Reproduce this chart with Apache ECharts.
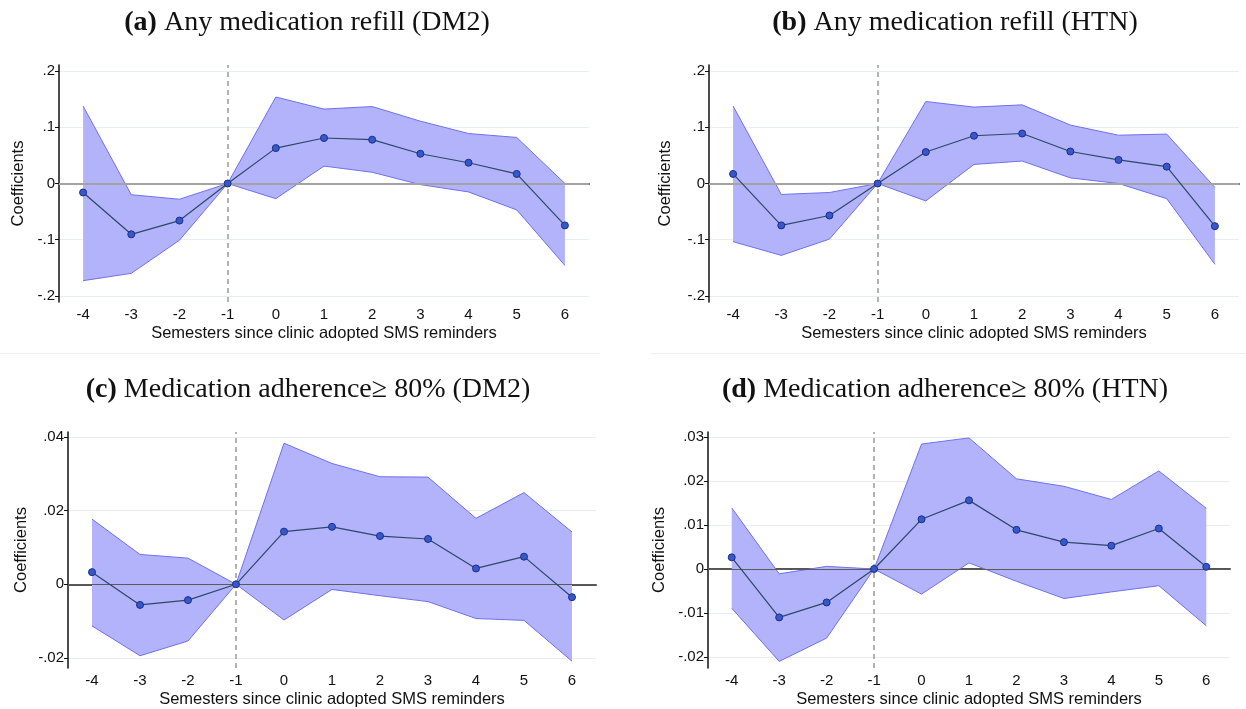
<!DOCTYPE html>
<html>
<head>
<meta charset="utf-8">
<script src="https://cdn.jsdelivr.net/npm/echarts@6/dist/echarts.min.js"></script>
<style>
html,body{margin:0;padding:0;background:#fff;}
#chart{width:1246px;height:709px;}
</style>
</head>
<body>
<div id="chart"></div>
<script>
// semesters relative to SMS adoption
var semesters = ['-4','-3','-2','-1','0','1','2','3','4','5','6'];

// (a) any refill, DM2
var refillDm2Coef = [-0.016,-0.0905,-0.066,0,0.063,0.081,0.078,0.053,0.037,0.017,-0.0746];
var refillDm2Hi   = [0.138,-0.020,-0.028,0,0.154,0.1325,0.137,0.111,0.089,0.082,0.0];
var refillDm2Lo   = [-0.173,-0.160,-0.101,0,-0.027,0.031,0.020,-0.002,-0.015,-0.047,-0.146];

// (b) any refill, HTN
var refillHtnCoef = [0.017,-0.0746,-0.057,0,0.056,0.085,0.089,0.057,0.042,0.030,-0.076];
var refillHtnHi   = [0.138,-0.0195,-0.016,0,0.146,0.136,0.140,0.104,0.086,0.088,-0.007];
var refillHtnLo   = [-0.1035,-0.128,-0.099,0,-0.031,0.034,0.040,0.010,0.0,-0.027,-0.144];

// (c) adherence >= 80%, DM2
var adhDm2Coef = [0.0033,-0.0056,-0.0043,0,0.0143,0.0156,0.0131,0.0123,0.0043,0.0075,-0.0035];
var adhDm2Hi   = [0.0177,0.0081,0.0071,0,0.0383,0.0328,0.0292,0.0291,0.0179,0.0249,0.0142];
var adhDm2Lo   = [-0.0113,-0.0194,-0.0154,0,-0.0097,-0.0014,-0.0031,-0.0047,-0.0093,-0.0098,-0.0209];

// (d) adherence >= 80%, HTN
var adhHtnCoef = [0.00265,-0.011,-0.0076,0,0.0113,0.0156,0.0089,0.0061,0.0053,0.0092,0.0005];
var adhHtnHi   = [0.0139,-0.0011,0.0006,0,0.0284,0.0298,0.0205,0.0188,0.0158,0.0223,0.0138];
var adhHtnLo   = [-0.0089,-0.021,-0.0157,0,-0.0057,0.0014,-0.0028,-0.0067,-0.0052,-0.0038,-0.0129];

var yTicksRefill = [-0.2,-0.1,0,0.1,0.2];
var yTicksAdhDm2 = [-0.02,0,0.02,0.04];
var yTicksAdhHtn = [-0.02,-0.01,0,0.01,0.02,0.03];

var panels = [
  { tag:'(a)', name:'Any medication refill (DM2)', coef:refillDm2Coef, hi:refillDm2Hi, lo:refillDm2Lo, ticks:yTicksRefill,
    min:-0.211, max:0.211, grid:{left:59, top:65, width:530, height:237}, titleX:302, titleY:4, nameGap:32, zero:{color:'#a3a3a3', width:2} },
  { tag:'(b)', name:'Any medication refill (HTN)', coef:refillHtnCoef, hi:refillHtnHi, lo:refillHtnLo, ticks:yTicksRefill,
    min:-0.211, max:0.211, grid:{left:709, top:65, width:530, height:237}, titleX:950, titleY:4, nameGap:35, zero:{color:'#a3a3a3', width:2} },
  { tag:'(c)', name:'Medication adherence\u2265 80% (DM2)', coef:adhDm2Coef, hi:adhDm2Hi, lo:adhDm2Lo, ticks:yTicksAdhDm2,
    min:-0.02273, max:0.04135, grid:{left:68, top:432, width:528, height:236}, titleX:303, titleY:371, nameGap:38, zero:{color:'#5a5a5a', width:1} },
  { tag:'(d)', name:'Medication adherence\u2265 80% (HTN)', coef:adhHtnCoef, hi:adhHtnHi, lo:adhHtnLo, ticks:yTicksAdhHtn,
    min:-0.0225, max:0.03114, grid:{left:708, top:432, width:522, height:236}, titleX:940, titleY:371, nameGap:40, zero:{color:'#5a5a5a', width:1} }
];

function tickFmt(v){
  var s = String(+(+v).toFixed(5));
  if (s === '0') return '0';
  return s.replace('0.', '.');
}

var option = {
  backgroundColor:'#fff',
  animation:false,
  title:[], grid:[], xAxis:[], yAxis:[], series:[],
  graphic:[
    { type:'line', shape:{x1:0, y1:353.5, x2:600, y2:353.5}, style:{stroke:'#eef2f2', lineWidth:1} },
    { type:'line', shape:{x1:650, y1:353.5, x2:1246, y2:353.5}, style:{stroke:'#eef2f2', lineWidth:1} }
  ]
};

panels.forEach(function(p, i){
  option.title.push({
    text:'{b|' + p.tag + '} ' + p.name,
    left:p.titleX, top:p.titleY, textAlign:'center',
    textStyle:{ fontFamily:'Liberation Serif', fontSize:28, fontWeight:'normal', color:'#111',
      rich:{ b:{ fontFamily:'Liberation Serif', fontSize:28, fontWeight:'bold', color:'#111' } } }
  });
  option.grid.push(p.grid);
  option.xAxis.push({
    gridIndex:i, type:'category', data:semesters, boundaryGap:true,
    name:'Semesters since clinic adopted SMS reminders', nameLocation:'middle', nameGap:23,
    nameTextStyle:{ fontFamily:'Liberation Sans', fontSize:16.5, color:'#111' },
    axisLine:{ lineStyle:{ color:'#555', width:2 } },
    axisTick:{ alignWithLabel:true, interval:0, length:4, lineStyle:{ color:'#555' } },
    axisLabel:{ interval:0, margin:5, fontFamily:'Liberation Sans', fontSize:15, color:'#111' },
    splitLine:{ show:false }
  });
  option.yAxis.push({
    gridIndex:i, type:'value', min:p.min, max:p.max,
    name:'Coefficients', nameLocation:'middle', nameGap:p.nameGap,
    nameTextStyle:{ fontFamily:'Liberation Sans', fontSize:16.5, color:'#111' },
    axisLine:{ show:true, lineStyle:{ color:'#111', width:1.5 } },
    axisTick:{ show:true, length:4, customValues:p.ticks, lineStyle:{ color:'#111' } },
    axisLabel:{ customValues:p.ticks, margin:4, fontFamily:'Liberation Sans', fontSize:15, color:'#111', formatter:tickFmt },
    splitLine:{ show:true, lineStyle:{ color:'#e8eff0', width:1 } }
  });
  var diff = p.hi.map(function(h, k){ return h - p.lo[k]; });
  option.series.push({
    type:'line', xAxisIndex:i, yAxisIndex:i, data:p.lo, stack:'ci' + i, stackStrategy:'all',
    symbol:'none', lineStyle:{ color:'#7070f0', width:1 }, silent:true
  });
  option.series.push({
    type:'line', xAxisIndex:i, yAxisIndex:i, data:diff, stack:'ci' + i, stackStrategy:'all',
    symbol:'none', lineStyle:{ color:'#7070f0', width:1 }, areaStyle:{ color:'#b2b3fa', opacity:1 }, silent:true
  });
  option.series.push({
    type:'line', xAxisIndex:i, yAxisIndex:i, data:p.coef, z:5,
    symbol:'circle', symbolSize:7,
    itemStyle:{ color:'#3557cf', borderColor:'#1d2f7d', borderWidth:1 },
    lineStyle:{ color:'#2c4868', width:1.2 },
    markLine:{ silent:true, symbol:'none', label:{ show:false },
      data:[
        { yAxis:0, lineStyle:{ color:p.zero.color, width:p.zero.width, type:'solid' } },
        { xAxis:semesters.indexOf('-1'), lineStyle:{ color:'#9a9a9a', width:1.5, type:[5,4] } }
      ] }
  });
});

echarts.init(document.getElementById('chart')).setOption(option);
</script>
</body>
</html>
